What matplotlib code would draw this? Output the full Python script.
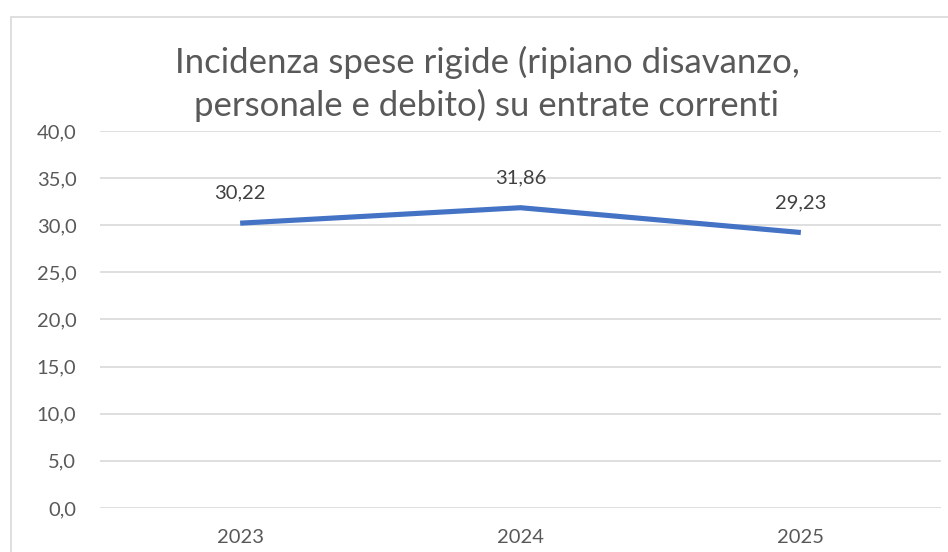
import matplotlib.pyplot as plt
from matplotlib.patches import Rectangle

years = ["2023", "2024", "2025"]
values = [30.22, 31.86, 29.23]
title = "Incidenza spese rigide (ripiano disavanzo,\npersonale e debito) su entrate correnti"

plt.rcParams["font.family"] = ["Lato", "DejaVu Sans"]
txt = "#595959"
grid = "#D9D9D9"

fig = plt.figure(figsize=(9.48, 5.52), dpi=100)
W, H = 948, 552

# chart border (cut off on right/bottom like the reference)
fig.patches.append(Rectangle((10.5 / W, -0.1), 1.2, 1.1 - 16.5 / H, transform=fig.transFigure,
                             fill=False, edgecolor=grid, linewidth=1.2))

ax = fig.add_axes([100 / W, 1 - 508 / H, 841 / W, 377 / H])
x = range(len(years))
ax.plot(x, values, color="#4472C4", linewidth=3.7, solid_capstyle="butt")
for xi, v in zip(x, values):
    ax.annotate(f"{v:.2f}".replace(".", ","), (xi, v), xytext=(0, 15.5), textcoords="offset points",
                ha="center", va="bottom", fontsize=14.5, color="#404040")

ax.set_xlim(-0.5, len(years) - 0.5)
ax.set_ylim(0, 40)
ax.set_yticks(range(0, 41, 5))
ax.set_yticklabels([f"{t:.1f}".replace(".", ",") for t in range(0, 41, 5)])
ax.set_xticks(list(x))
ax.set_xticklabels(years)
ax.tick_params(axis="y", length=0, pad=17, labelsize=14.5, labelcolor=txt)
ax.tick_params(axis="x", length=0, pad=15, labelsize=14.5, labelcolor=txt)
ax.grid(axis="y", color=grid, linewidth=1.2)
ax.set_axisbelow(True)
for s in ax.spines.values():
    s.set_visible(False)

fig.text(487 / W, 1 - 84 / H, title, ha="center", va="center", fontsize=25, color=txt,
         linespacing=1.38)

fig.savefig("out.png", dpi=100)
